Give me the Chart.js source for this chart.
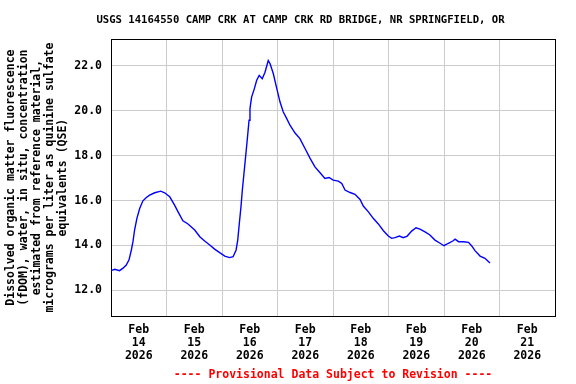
<!DOCTYPE html>
<html lang="en">
<head>
    <meta charset="UTF-8">
    <title>USGS 14164550 fDOM</title>
    <style>
        html, body { margin: 0; padding: 0; background: #fff; }
        #wrap { width: 576px; height: 384px; position: relative; }
    </style>
</head>
<body>
    <div id="wrap"><canvas id="myChart"></canvas></div>

    <script src="https://cdn.jsdelivr.net/npm/chart.js"></script>
    <script>
        // hours since Feb 14 2026 00:00
        var hours = [0, 1.6, 3.7, 5.2, 6.6, 7.8, 8.8, 9.5, 10.2, 11.2, 12.4, 13.8, 15.3, 16.7, 18.9, 21.5, 23.2,
            25.4, 27.5, 29, 31.1, 33.3, 36.2, 38.4, 40.5, 42.7, 44.8, 47, 49.2, 51.3, 52.8,
            54.1, 54.8, 55.5, 56.2, 56.8, 57.5, 58.2, 58.9, 59.7, 60.1, 60.8, 62, 63, 64.1, 65.4, 66.6, 68, 68.8,
            70.2, 71.7, 73.1, 74.5, 76, 77.4, 79.6, 81.7, 83.9, 86.1, 88.2, 90.4, 92.5, 94.3, 96.1,
            98.3, 99.8, 101.2, 103.4, 105.5, 107.7, 109.1, 111.3, 113.4, 115.6, 117.8, 119.9,
            121.4, 122.8, 124.7, 126.4, 128.1, 130, 131.9, 133.6, 135.8, 137.9, 140.1, 142.3, 144,
            145.9, 147.8, 148.8, 150.3, 152.4, 154.6, 156, 157.4, 159.6, 161.7, 163.9];
        var fdom = [12.88, 12.94, 12.88, 12.99, 13.13, 13.36, 13.8, 14.17, 14.69, 15.21, 15.65, 15.99, 16.14, 16.24, 16.35, 16.42, 16.35,
            16.17, 15.8, 15.5, 15.1, 14.96, 14.69, 14.39, 14.2, 14.02, 13.84, 13.68, 13.53, 13.46, 13.5,
            13.8, 14.24, 14.99, 15.72, 16.47, 17.21, 17.95, 18.69, 19.58, 20.1, 20.61, 20.99, 21.36, 21.58, 21.43, 21.72, 22.24, 22.1,
            21.65, 20.99, 20.39, 19.95, 19.65, 19.36, 19.01, 18.76, 18.32, 17.88, 17.5, 17.24, 16.99, 17.03, 16.91,
            16.87, 16.76, 16.47, 16.36, 16.28, 16.05, 15.76, 15.5, 15.21, 14.96, 14.66, 14.42,
            14.32, 14.35, 14.42, 14.35, 14.42, 14.64, 14.79, 14.73, 14.61, 14.47, 14.24, 14.1, 13.99,
            14.1, 14.2, 14.28, 14.17, 14.17, 14.14, 13.98, 13.77, 13.53, 13.43, 13.22];

        var dayLines = [0, 24, 48, 72, 96, 120, 144, 168, 192];
        var labelHours = [12, 36, 60, 84, 108, 132, 156, 180];
        var dayLabels = [
            ['Feb', '14', '2026'], ['Feb', '15', '2026'], ['Feb', '16', '2026'], ['Feb', '17', '2026'],
            ['Feb', '18', '2026'], ['Feb', '19', '2026'], ['Feb', '20', '2026'], ['Feb', '21', '2026']
        ];
        var yTicks = [12, 14, 16, 18, 20, 22];

        var chartTitle = 'USGS 14164550 CAMP CRK AT CAMP CRK RD BRIDGE, NR SPRINGFIELD, OR';
        var yTitle = [
            'Dissolved organic matter fluorescence',
            '(fDOM), water, in situ, concentration',
            'estimated from reference material,',
            'micrograms per liter as quinine sulfate',
            'equivalents (QSE)'
        ];
        var footer = '---- Provisional Data Subject to Revision ----';

        var mono = 'DejaVu Sans Mono';
        var tickFont = { family: mono, size: 11.5, weight: 'bold', lineHeight: 1.13 };

        // title is not centred on the canvas in the original, so draw it by hand
        var topTitle = {
            id: 'topTitle',
            afterDraw: function(chart) {
                var ctx = chart.ctx;
                ctx.save();
                ctx.font = 'bold 10.6px "' + mono + '"';
                ctx.fillStyle = '#000';
                ctx.textAlign = 'center';
                ctx.textBaseline = 'middle';
                ctx.fillText(chartTitle, 300.5, 20.5);
                ctx.restore();
            }
        };

        var points = hours.map(function(h, i) { return { x: h, y: fdom[i] }; });

        new Chart(document.getElementById('myChart'), {
            type: 'line',
            data: {
                datasets: [{
                    data: points,
                    borderColor: '#0000ff',
                    borderWidth: 1.4,
                    pointRadius: 0,
                    tension: 0,
                    fill: false
                }]
            },
            options: {
                responsive: true,
                maintainAspectRatio: false,
                animation: false,
                layout: { padding: { top: 39, right: 21, left: 0, bottom: 0 } },
                plugins: {
                    legend: { display: false },
                    tooltip: { enabled: false },
                    title: {
                        display: true,
                        position: 'bottom',
                        fullSize: false,
                        text: footer,
                        color: '#ff0000',
                        font: { family: mono, size: 11.5, weight: 'bold', lineHeight: 1.2 },
                        padding: { top: 4, bottom: 2 }
                    }
                },
                scales: {
                    x: {
                        type: 'linear',
                        position: 'bottom',
                        min: 0,
                        max: 192,
                        afterBuildTicks: function(s) { s.ticks = labelHours.map(function(v) { return { value: v }; }); },
                        afterFit: function(s) { s.height = 48; },
                        ticks: {
                            autoSkip: false,
                            maxRotation: 0,
                            padding: 7,
                            color: '#000',
                            font: tickFont,
                            callback: function(v, i) { return dayLabels[i]; }
                        },
                        grid: { display: false, drawTicks: false },
                        border: { display: true, color: '#000', width: 1 }
                    },
                    xGrid: {
                        type: 'linear',
                        position: 'top',
                        min: 0,
                        max: 192,
                        afterBuildTicks: function(s) { s.ticks = dayLines.map(function(v) { return { value: v }; }); },
                        afterFit: function(s) { s.height = 0; },
                        ticks: { display: false },
                        grid: { color: '#cccccc', lineWidth: 1, drawTicks: false },
                        border: { display: true, color: '#000', width: 1 }
                    },
                    y: {
                        position: 'left',
                        min: 10.85,
                        max: 23.2,
                        afterBuildTicks: function(s) { s.ticks = yTicks.map(function(v) { return { value: v }; }); },
                        afterFit: function(s) { s.width = 111; },
                        ticks: {
                            padding: 9,
                            color: '#000',
                            font: tickFont,
                            callback: function(v) { return v.toFixed(1); }
                        },
                        grid: { color: '#cccccc', lineWidth: 1, drawTicks: false },
                        border: { display: true, color: '#000', width: 1 },
                        title: {
                            display: true,
                            text: yTitle,
                            color: '#000',
                            font: tickFont,
                            padding: { top: 4.5, bottom: 0 }
                        }
                    },
                    yRight: {
                        position: 'right',
                        min: 10.85,
                        max: 23.2,
                        afterFit: function(s) { s.width = 0; },
                        ticks: { display: false },
                        grid: { display: false, drawTicks: false },
                        border: { display: true, color: '#000', width: 1 }
                    }
                }
            },
            plugins: [topTitle]
        });
    </script>
</body>
</html>
